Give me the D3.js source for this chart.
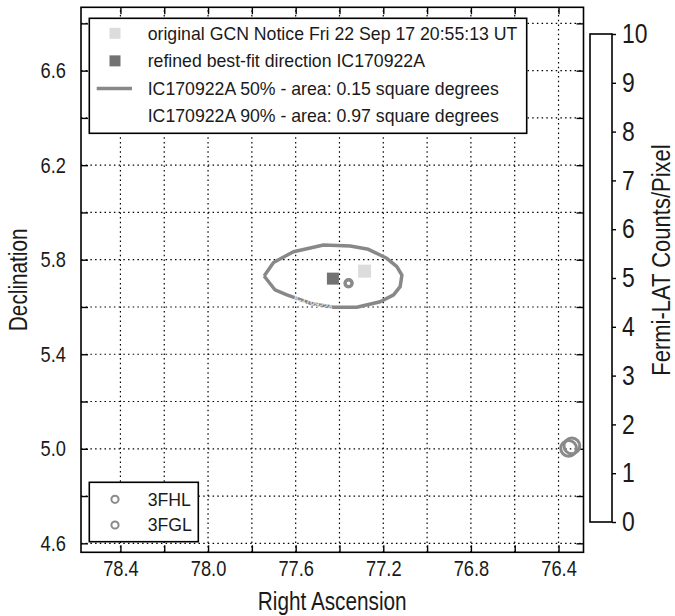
<!DOCTYPE html>
<html>
<head>
<meta charset="utf-8">
<script src="https://cdn.jsdelivr.net/npm/d3@7"></script>
<style>
  body { margin: 0; background: #fff; }
  svg { display: block; }
  .narrow { font-family: 'Liberation Sans', Arial, sans-serif; fill: #1a1a1a; }
  .leg { font-family: 'Liberation Sans', Arial, sans-serif; font-size: 17.7px; fill: #1a1a1a; }
</style>
</head>
<body>
<svg id="chart" width="675" height="616"></svg>
<script>
const W = 675;
const H = 616;

// axis ticks
const raTicks = [78.4, 78.2, 78.0, 77.8, 77.6, 77.4, 77.2, 77.0, 76.8, 76.6, 76.4];
const raLabels = [78.4, 78.0, 77.6, 77.2, 76.8, 76.4];
const decTicks = [4.6, 4.8, 5.0, 5.2, 5.4, 5.6, 5.8, 6.0, 6.2, 6.4, 6.6, 6.8];
const decLabels = [4.6, 5.0, 5.4, 5.8, 6.2, 6.6];
const cbarTicks = [0, 1, 2, 3, 4, 5, 6, 7, 8, 9, 10];

// neutrino directions
const gcnOriginal = [77.2853, 5.7517];
const bestFit = [77.43, 5.72];

// 50% contour
const contourRA = [77.744, 77.701, 77.610, 77.473, 77.351, 77.268, 77.184, 77.138, 77.115,
                   77.123, 77.153, 77.214, 77.321, 77.427, 77.534, 77.640, 77.694, 77.744];
const contourDec = [5.731, 5.788, 5.834, 5.862, 5.858, 5.844, 5.806, 5.771, 5.735,
                    5.686, 5.651, 5.622, 5.599, 5.599, 5.616, 5.651, 5.672, 5.731];

// catalog sources (RA, Dec, radius in deg)
const fhlRA = [77.358, 76.339];
const fhlDec = [5.701, 5.012];
const fhlR = [0.016, 0.036];
const fglRA = [77.359, 76.354];
const fglDec = [5.699, 5.002];
const fglR = [0.016, 0.036];

const legendTop = [
  { kind: 'sq', color: '#dcdcdc', text: 'original GCN Notice Fri 22 Sep 17 20:55:13 UT' },
  { kind: 'sq', color: '#727272', text: 'refined best-fit direction IC170922A' },
  { kind: 'line', color: '#888', text: 'IC170922A 50% - area: 0.15 square degrees' },
  { kind: 'none', color: '#fff', text: 'IC170922A 90% - area: 0.97 square degrees' }
];
const legendBottom = ['3FHL', '3FGL'];

const svg = d3.select('#chart');

const x = d3.scaleLinear().domain([78.58, 76.286]).range([81, 583.5]);
const y = d3.scaleLinear().domain([4.562, 6.868]).range([552.3, 7.3]);
const cb = d3.scaleLinear().domain([0, 10]).range([522, 34]);
const pxPerDeg = x(77) - x(78);

// squeeze text horizontally (narrow face look)
function squeeze(sel, f) {
  sel.each(function () {
    const L = this.getComputedTextLength();
    d3.select(this).attr('textLength', L * f).attr('lengthAdjust', 'spacingAndGlyphs');
  });
}

// grid
const grid = svg.append('g').attr('stroke', '#000').attr('stroke-width', 1.2)
  .attr('stroke-dasharray', '1.5,3.2');
grid.selectAll('.gx').data(raTicks).enter().append('line')
  .attr('x1', d => x(d)).attr('x2', d => x(d))
  .attr('y1', y.range()[0]).attr('y2', y.range()[1]);
grid.selectAll('.gy').data(decTicks).enter().append('line')
  .attr('y1', d => y(d)).attr('y2', d => y(d))
  .attr('x1', x.range()[0]).attr('x2', x.range()[1]);

// axes
const fmtRA = d => raLabels.some(v => Math.abs(v - d) < 1e-6) ? d.toFixed(1) : '';
const fmtDec = d => decLabels.some(v => Math.abs(v - d) < 1e-6) ? d.toFixed(1) : '';

const xAxis = svg.append('g').attr('transform', 'translate(0,' + y.range()[0] + ')')
  .call(d3.axisBottom(x).tickValues(raTicks).tickFormat(fmtRA).tickSizeInner(-7).tickSizeOuter(0).tickPadding(8));
const xAxisTop = svg.append('g').attr('transform', 'translate(0,' + y.range()[1] + ')')
  .call(d3.axisTop(x).tickValues(raTicks).tickFormat('').tickSizeInner(-7).tickSizeOuter(0));
const yAxis = svg.append('g').attr('transform', 'translate(' + x.range()[0] + ',0)')
  .call(d3.axisLeft(y).tickValues(decTicks).tickFormat(fmtDec).tickSizeInner(-7).tickSizeOuter(0).tickPadding(15));
const yAxisR = svg.append('g').attr('transform', 'translate(' + x.range()[1] + ',0)')
  .call(d3.axisRight(y).tickValues(decTicks).tickFormat('').tickSizeInner(-7).tickSizeOuter(0));

[xAxis, xAxisTop, yAxis, yAxisR].forEach(a => {
  a.select('.domain').remove();
  a.selectAll('line').attr('stroke', '#000').attr('stroke-width', 1.4);
  a.selectAll('text').attr('class', 'narrow').attr('font-size', 22).attr('fill', '#1a1a1a');
});
squeeze(xAxis.selectAll('text'), 0.83);
squeeze(yAxis.selectAll('text'), 0.83);

// 50% contour
const pts = contourRA.map((r, i) => [x(r), y(contourDec[i])]);
svg.append('path')
  .attr('d', d3.line()(pts))
  .attr('fill', 'none').attr('stroke', '#888').attr('stroke-width', 3.5)
  .attr('stroke-linejoin', 'round');

svg.append('text')
  .attr('transform', 'translate(' + x(77.61) + ',' + y(5.632) + ') rotate(17)')
  .attr('font-family', 'Liberation Sans, sans-serif').attr('font-size', 8)
  .attr('fill', '#fff').text('IC170922A');

// direction squares
svg.append('rect')
  .attr('x', x(gcnOriginal[0]) - 6.5).attr('y', y(gcnOriginal[1]) - 6.5)
  .attr('width', 13).attr('height', 13).attr('fill', '#dcdcdc');
svg.append('rect')
  .attr('x', x(bestFit[0]) - 6).attr('y', y(bestFit[1]) - 6)
  .attr('width', 12).attr('height', 12).attr('fill', '#727272');

// catalog circles
const circ = (ra, dec, r) => svg.append('g').selectAll('circle')
  .data(ra.map((d, i) => [d, dec[i], r[i]])).enter().append('circle')
  .attr('cx', d => x(d[0])).attr('cy', d => y(d[1])).attr('r', d => d[2] * pxPerDeg)
  .attr('fill', 'none').attr('stroke', '#8a8a8a').attr('stroke-width', 3);
circ(fglRA, fglDec, fglR);
circ(fhlRA, fhlDec, fhlR);

// frame
svg.append('rect')
  .attr('x', x.range()[0]).attr('y', y.range()[1])
  .attr('width', x.range()[1] - x.range()[0]).attr('height', y.range()[0] - y.range()[1])
  .attr('fill', 'none').attr('stroke', '#000').attr('stroke-width', 1.6);

// top legend
const lg = svg.append('g');
lg.append('rect').attr('x', 89.3).attr('y', 18.3).attr('width', 437.4).attr('height', 115)
  .attr('fill', '#fff').attr('stroke', '#000').attr('stroke-width', 1.6);
const rowY = d3.scalePoint().domain(d3.range(legendTop.length)).range([33.3, 116]);
legendTop.forEach((d, i) => {
  const cy = rowY(i);
  if (d.kind === 'sq') {
    lg.append('rect').attr('x', 115 - 5.5).attr('y', cy - 5.5).attr('width', 11).attr('height', 11)
      .attr('fill', d.color);
  } else if (d.kind === 'line') {
    lg.append('line').attr('x1', 96.7).attr('x2', 132).attr('y1', cy).attr('y2', cy)
      .attr('stroke', d.color).attr('stroke-width', 3.5);
  }
  lg.append('text').attr('class', 'leg').attr('x', 147.7).attr('y', cy).attr('dy', '0.36em').text(d.text);
});

// bottom legend
const lb = svg.append('g');
lb.append('rect').attr('x', 89.3).attr('y', 482.3).attr('width', 109).attr('height', 59.4)
  .attr('fill', '#fff').attr('stroke', '#000').attr('stroke-width', 1.6);
const rowY2 = d3.scalePoint().domain(d3.range(legendBottom.length)).range([499.3, 525]);
legendBottom.forEach((t, i) => {
  lb.append('circle').attr('cx', 115).attr('cy', rowY2(i)).attr('r', 3.6)
    .attr('fill', 'none').attr('stroke', '#8a8a8a').attr('stroke-width', 2);
  lb.append('text').attr('class', 'leg').attr('x', 147.7).attr('y', rowY2(i)).attr('dy', '0.36em').text(t);
});

// colorbar
svg.append('rect').attr('x', 590).attr('y', cb(10)).attr('width', 22).attr('height', cb(0) - cb(10))
  .attr('fill', '#fff').attr('stroke', '#000').attr('stroke-width', 1.6);
const cAxis = svg.append('g').attr('transform', 'translate(612,0)')
  .call(d3.axisRight(cb).tickValues(cbarTicks).tickFormat(d3.format('d')).tickSizeInner(-5).tickSizeOuter(0).tickPadding(10));
cAxis.select('.domain').remove();
cAxis.selectAll('line').attr('stroke', '#000').attr('stroke-width', 1.4).attr('x2', 4);
cAxis.selectAll('text').attr('class', 'narrow').attr('font-size', 27).attr('fill', '#1a1a1a');
squeeze(cAxis.selectAll('text'), 0.85);

// axis titles
const t1 = svg.append('text').attr('class', 'narrow').attr('font-size', 25)
  .attr('x', (x.range()[0] + x.range()[1]) / 2).attr('y', 610).attr('text-anchor', 'middle')
  .text('Right Ascension');
const t2 = svg.append('text').attr('class', 'narrow').attr('font-size', 25)
  .attr('transform', 'translate(27,' + (y.range()[0] + y.range()[1]) / 2 + ') rotate(-90)')
  .attr('text-anchor', 'middle').text('Declination');
const t3 = svg.append('text').attr('class', 'narrow').attr('font-size', 25)
  .attr('transform', 'translate(670,260) rotate(-90)')
  .attr('text-anchor', 'middle').text('Fermi-LAT Counts/Pixel');
squeeze(t1, 0.83);
squeeze(t2, 0.83);
squeeze(t3, 0.88);
</script>
</body>
</html>
